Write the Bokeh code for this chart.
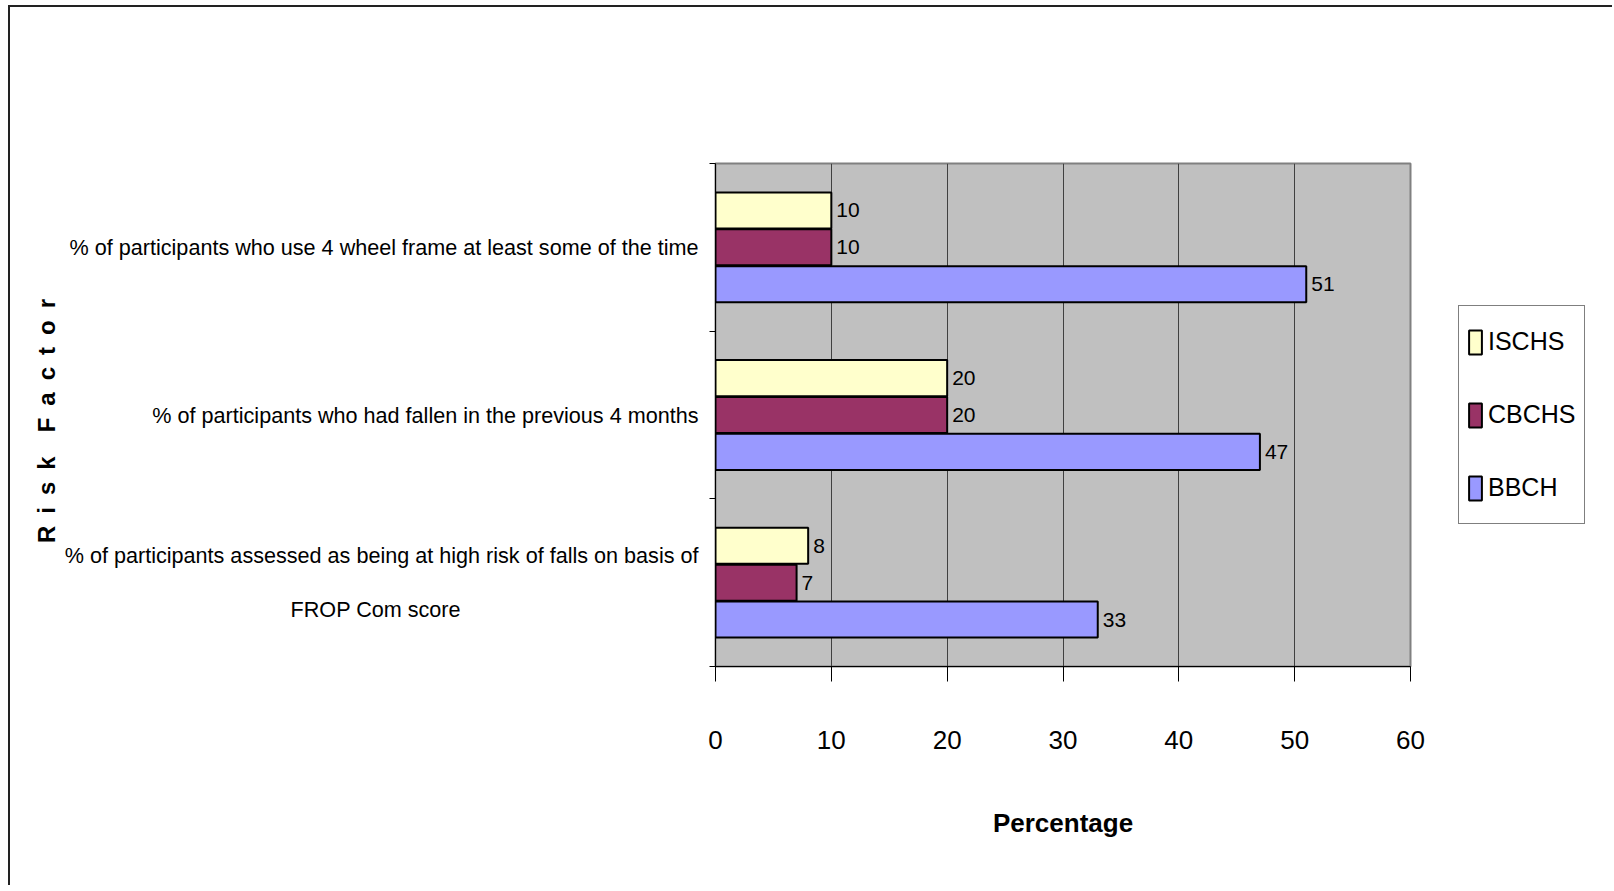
from bokeh.plotting import figure
from bokeh.layouts import row
from bokeh.models import (ColumnDataSource, Range1d, FixedTicker, LabelSet, Legend, LegendItem)
from bokeh.core.properties import value
from bokeh.embed import file_html
from bokeh.resources import INLINE

# ---------------- data ----------------
categories = [
    "% of participants who use 4 wheel frame at least some of the time",
    "% of participants who had fallen in the previous 4 months",
    "% of participants assessed as being at high risk of falls on basis of\nFROP Com score",
]
series = ["ISCHS", "CBCHS", "BBCH"]
ischs = [10, 20, 8]
cbchs = [10, 20, 7]
bbch = [51, 47, 33]
colors = ["#FFFFCC", "#993366", "#9999FF"]
x_ticks = [0, 10, 20, 30, 40, 50, 60]

FONT = "Liberation Sans"

H = 878
FL, FW, FT, FB = 705, 695, 156, 659
RB = 30
W1 = FL + FW + RB
W2 = 172

p = figure(width=W1, height=H, output_backend="svg", toolbar_location=None,
           x_range=Range1d(0, 60), y_range=Range1d(0, len(categories)),
           min_border_left=FL, min_border_right=RB,
           min_border_top=FT, min_border_bottom=H - FB)

p.background_fill_color = "#C0C0C0"
p.border_fill_color = "white"
p.outline_line_color = "#808080"
p.outline_line_width = 2

n = len(categories)
centers = [n - i - 0.5 for i in range(n)]
offsets = [0.22, 0.0, -0.22]
bar_h = 0.215

vals_all = [ischs, cbchs, bbch]
for s, vals, col, off in zip(series, vals_all, colors, offsets):
    src = ColumnDataSource(dict(y=[c + off for c in centers], right=vals,
                                lab=[str(v) for v in vals]))
    p.hbar(y="y", left=0, right="right", height=bar_h, source=src,
           fill_color=col, line_color="black", line_width=2)
    p.add_layout(LabelSet(x="right", y="y", text="lab", source=src, x_offset=5,
                          text_baseline="middle", text_align="left",
                          text_font=value(FONT), text_font_size="21px",
                          text_color="black"))

# category labels on the y axis; continuation lines are centred under the
# first line by padding them on the right with em spaces
def fmt(cat):
    lines = cat.split("\n")
    out = [lines[0]] + [ln + "\u2003" * 11 for ln in lines[1:]]
    return "\n".join(out)

p.yaxis.ticker = FixedTicker(ticks=centers, minor_ticks=list(range(n + 1)))
p.yaxis.major_label_overrides = {c: fmt(cat) for c, cat in zip(centers, categories)}
p.yaxis.major_label_text_font = FONT
p.yaxis.major_label_text_font_size = "21.6px"
p.yaxis.major_label_text_color = "black"
p.yaxis.major_label_text_line_height = 2.15
p.yaxis.major_label_standoff = 11
p.yaxis.major_tick_line_color = None
p.yaxis.major_tick_out = 0
p.yaxis.minor_tick_out = 6
p.yaxis.minor_tick_in = 0
p.yaxis.minor_tick_line_color = "black"
p.yaxis.axis_line_color = "black"
p.yaxis.axis_label = "R\u2002i\u2002s\u2002k\u2002\u2002F\u2002a\u2002c\u2002t\u2002o\u2002r\u2002"
p.yaxis.axis_label_text_font = FONT
p.yaxis.axis_label_text_font_size = "24px"
p.yaxis.axis_label_text_font_style = "bold"
p.yaxis.axis_label_text_color = "black"
p.yaxis.axis_label_standoff = 2

# x axis
p.xaxis.ticker = FixedTicker(ticks=x_ticks)
p.xaxis.major_label_text_font = FONT
p.xaxis.major_label_text_font_size = "26px"
p.xaxis.major_label_text_color = "black"
p.xaxis.major_label_standoff = 49
p.xaxis.major_tick_out = 15
p.xaxis.major_tick_in = 0
p.xaxis.minor_tick_line_color = None
p.xaxis.axis_line_color = "black"
p.xaxis.major_tick_line_color = "black"
p.xaxis.axis_label = "Percentage"
p.xaxis.axis_label_text_font = FONT
p.xaxis.axis_label_text_font_size = "26px"
p.xaxis.axis_label_text_font_style = "bold"
p.xaxis.axis_label_text_color = "black"
p.xaxis.axis_label_standoff = 56

p.xgrid.grid_line_color = "#404040"
p.xgrid.grid_line_width = 1
p.ygrid.grid_line_color = None

# legend panel (separate small canvas to the right of the chart)
q = figure(width=W2, height=H, output_backend="svg", toolbar_location=None,
           x_range=Range1d(0, 1), y_range=Range1d(0, 1),
           x_axis_location=None, y_axis_location=None,
           min_border=0)
q.outline_line_color = None
q.grid.visible = False
q.background_fill_color = "white"
q.border_fill_color = "white"
leg_items = []
for s, col in zip(series, colors):
    # swatch-only renderer: its single bar has no position, so nothing is drawn
    r = q.hbar(y=[float("nan")], left=[float("nan")], right=[float("nan")],
               height=0.1, fill_color=col, line_color="black", line_width=2)
    leg_items.append(LegendItem(label=s, renderers=[r]))

legend = Legend(items=leg_items, location=(18, 142))
legend.label_text_font = FONT
legend.label_text_font_size = "25px"
legend.label_text_color = "black"
legend.glyph_width = 16
legend.glyph_height = 30
legend.label_standoff = 5
legend.label_height = 55
legend.spacing = 18
legend.padding = 8
legend.margin = 0
legend.border_line_color = "black"
legend.border_line_width = 1
legend.background_fill_color = "white"
legend.background_fill_alpha = 1
q.add_layout(legend, "center")

layout = row(p, q, spacing=0)
layout.styles = {"border-left": "2px solid #222", "border-top": "2px solid #222",
                 "margin-left": "8px", "margin-top": "5px"}

open("out.html", "w").write(file_html(layout, INLINE))
